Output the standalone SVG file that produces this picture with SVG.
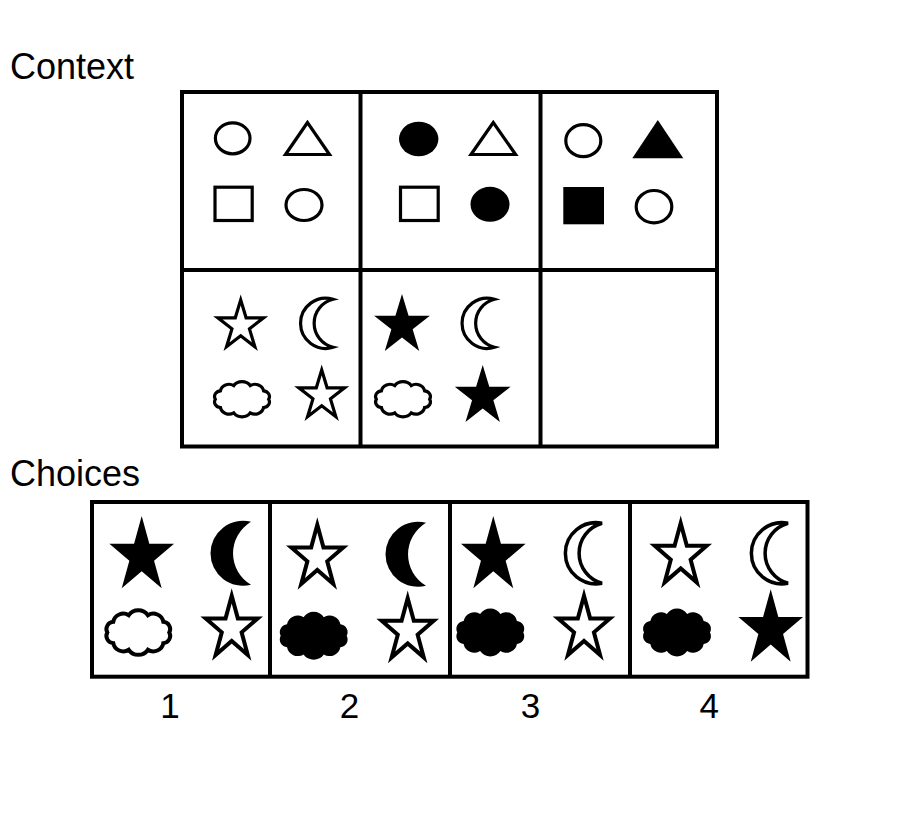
<svg xmlns="http://www.w3.org/2000/svg" xmlns:xlink="http://www.w3.org/1999/xlink" width="900" height="820" viewBox="0 0 900 820">
<style>
.lbl{font-family:"Liberation Sans",Arial,sans-serif;font-size:36px;fill:#000}
.num{font-family:"Liberation Sans",Arial,sans-serif;font-size:35px;fill:#000;text-anchor:middle}
.frame{fill:none;stroke:#000;stroke-width:4}
.o3{fill:#fff;stroke:#000;stroke-width:3.2}
.o4{fill:#fff;stroke:#000;stroke-width:4}
.f{fill:#000;stroke:none}
</style>
<defs>
<path id="star" vector-effect="non-scaling-stroke" d="M0,-30 L6.735,-9.27 L28.53,-9.27 L10.9,3.54 L17.63,24.27 L0,11.46 L-17.63,24.27 L-10.9,3.54 L-28.53,-9.27 L-6.735,-9.27 Z"/>
<path id="cloud" vector-effect="non-scaling-stroke" d="M25,0 A6,6 0 0,1 20.2,8.8 A8.2,8.2 0 0,1 7.7,14.3 A9.2,9.2 0 0,1 -7.7,14.3 A8.2,8.2 0 0,1 -20.2,8.8 A6,6 0 0,1 -25,0 A6,6 0 0,1 -20.2,-8.8 A8.2,8.2 0 0,1 -7.7,-14.3 A9.2,9.2 0 0,1 7.7,-14.3 A8.2,8.2 0 0,1 20.2,-8.8 A6,6 0 0,1 25,0 Z"/>
<path id="moonS" d="M0,-24 A25.1,25.1 0 1,0 0,24 A24.7,24.7 0 0,1 0,-24 Z"/>
<path id="moonLF" d="M0,-31.5 A32.5,32.5 0 1,0 0,31.5 A36.6,36.6 0 0,1 0,-31.5 Z"/>
<path id="moonLO" d="M0,-30 A30.6,30.6 0 1,0 0,30 A31.1,31.1 0 0,1 0,-30 Z"/>
</defs>
<rect width="900" height="820" fill="#fff"/>
<text class="lbl" x="10" y="79">Context</text>
<text class="lbl" x="10" y="485.5">Choices</text>

<g id="context-cell-1">
<ellipse class="o3" cx="232.7" cy="138.3" rx="17.3" ry="15.5"/>
<polygon class="o3" points="307.5,122.5 285.5,154.5 329.5,154.5"/>
<rect class="o3" x="215" y="187.2" width="37.2" height="33.3"/>
<ellipse class="o3" cx="304" cy="205" rx="18" ry="15.5"/>
</g>
<g id="context-cell-2">
<ellipse class="f" cx="418.7" cy="139" rx="19.7" ry="17.3"/>
<polygon class="o3" points="493.3,122.5 471,154.5 515.6,154.5"/>
<rect class="o3" x="400.5" y="187.2" width="37.7" height="33.3"/>
<ellipse class="f" cx="490" cy="204.3" rx="19.5" ry="17.5"/>
</g>
<g id="context-cell-3">
<ellipse class="o3" cx="583.3" cy="140.7" rx="17.5" ry="16"/>
<polygon class="f" points="657.8,120 632.3,158.3 683.3,158.3"/>
<rect class="f" x="563.3" y="187" width="40.7" height="37.3"/>
<ellipse class="o3" cx="654" cy="206.7" rx="17.8" ry="16.2"/>
</g>
<g id="context-cell-4">
<use xlink:href="#star" class="o3" transform="translate(240.7,325.8) scale(0.803,0.863)"/>
<use xlink:href="#moonS" class="o3" transform="translate(333,323.3)"/>
<use xlink:href="#cloud" class="o3" transform="translate(242,399.2) scale(1.067,0.954)"/>
<use xlink:href="#star" class="o3" transform="translate(321.7,395.8) scale(0.803,0.863)"/>
</g>
<g id="context-cell-5">
<use xlink:href="#star" class="f" transform="translate(402,325.5) scale(0.977,1.05)"/>
<use xlink:href="#moonS" class="o3" transform="translate(494.5,323.3)"/>
<use xlink:href="#cloud" class="o3" transform="translate(403,399.2) scale(1.067,0.954)"/>
<use xlink:href="#star" class="f" transform="translate(482.7,396.5) scale(0.977,1.05)"/>
</g>
<g id="context-cell-6"></g>
<g id="context-grid">
<rect class="frame" x="182" y="92" width="535" height="354.5"/>
<line class="frame" x1="360.5" y1="92" x2="360.5" y2="446.5"/>
<line class="frame" x1="540.5" y1="92" x2="540.5" y2="446.5"/>
<line class="frame" x1="182" y1="270" x2="717" y2="270"/>
</g>

<g id="choice-1">
<use xlink:href="#star" class="f" transform="translate(141.7,556) scale(1.133,1.333)"/>
<use xlink:href="#moonLF" class="f" transform="translate(251,553.3)"/>
<use xlink:href="#cloud" class="o4" transform="translate(138.3,632.5) scale(1.24,1.21)"/>
<use xlink:href="#star" class="o4" transform="translate(231.7,628.5) scale(0.91,1.09)"/>
<text class="num" x="170" y="718">1</text>
</g>
<g id="choice-2">
<use xlink:href="#star" class="o4" transform="translate(317.3,557.5) scale(0.91,1.09)"/>
<use xlink:href="#moonLF" class="f" transform="translate(426,554.3)"/>
<use xlink:href="#cloud" class="f" transform="translate(313.7,635.8) scale(1.32,1.3)"/>
<use xlink:href="#star" class="o4" transform="translate(407.7,630.9) scale(0.91,1.09)"/>
<text class="num" x="349.5" y="718">2</text>
</g>
<g id="choice-3">
<use xlink:href="#star" class="f" transform="translate(493.3,556) scale(1.133,1.333)"/>
<use xlink:href="#moonLO" class="o4" transform="translate(602,553.3)" style="stroke-width:3.5"/>
<use xlink:href="#cloud" class="f" transform="translate(490.3,632.5) scale(1.32,1.3)"/>
<use xlink:href="#star" class="o4" transform="translate(584,628.5) scale(0.91,1.09)"/>
<text class="num" x="530.5" y="718">3</text>
</g>
<g id="choice-4">
<use xlink:href="#star" class="o4" transform="translate(680.7,555.9) scale(0.91,1.09)"/>
<use xlink:href="#moonLO" class="o4" transform="translate(788,553.3)" style="stroke-width:3.5"/>
<use xlink:href="#cloud" class="f" transform="translate(677,632.5) scale(1.32,1.3)"/>
<use xlink:href="#star" class="f" transform="translate(770.7,629.3) scale(1.133,1.333)"/>
<text class="num" x="709.3" y="718">4</text>
</g>
<g id="choices-grid">
<rect class="frame" x="92" y="502" width="715.5" height="174.7"/>
<line class="frame" x1="270" y1="502" x2="270" y2="676.7"/>
<line class="frame" x1="450" y1="502" x2="450" y2="676.7"/>
<line class="frame" x1="630" y1="502" x2="630" y2="676.7"/>
</g>
</svg>
